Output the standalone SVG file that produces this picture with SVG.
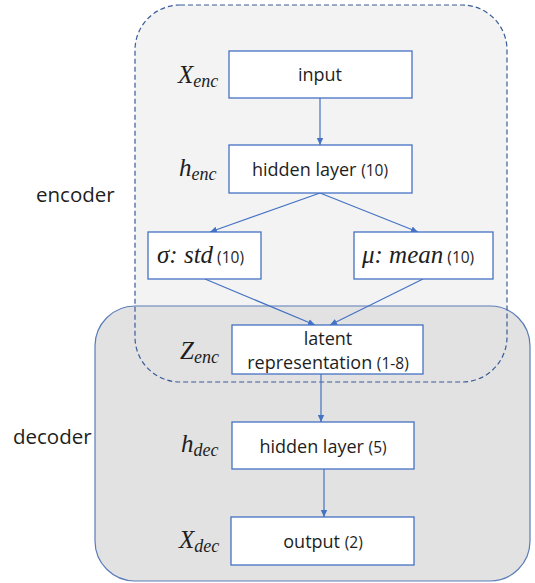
<svg xmlns="http://www.w3.org/2000/svg" width="535" height="583" viewBox="0 0 535 583">
<defs>
<marker id="ah" markerWidth="8" markerHeight="8" refX="7" refY="4" orient="auto" markerUnits="userSpaceOnUse">
<path d="M0,0.8 L7,4 L0,7.2 Z" fill="#4472C4"/>
</marker>
<style>
.box{fill:#fff;stroke:#4472C4;stroke-width:1.3}
.t{font-family:"Open Sans","Liberation Sans",sans-serif;font-size:18px;fill:#1e1e1e;text-anchor:middle}
.s{font-size:15.5px}
.m{font-family:"Liberation Serif","DejaVu Serif",serif;font-style:italic;fill:#1e1e1e}
.big{font-size:25px}
.sub{font-size:18px}
.lbl{font-family:"Open Sans","Liberation Sans",sans-serif;font-size:20.5px;fill:#1e1e1e}
.c{stroke:#4472C4;stroke-width:1.2;fill:none;marker-end:url(#ah)}
</style>
</defs>
<rect width="535" height="583" fill="#fff"/>
<g id="encoder-region">
<rect x="135" y="5" width="372" height="377" rx="45" fill="#f3f3f3"/>
</g>
<g id="decoder-region">
<rect x="95" y="306" width="435" height="275" rx="40" fill="#e2e2e2" stroke="#5a7cb8" stroke-width="1.2"/>
</g>
<g id="encoder-border">
<rect x="135" y="5" width="372" height="377" rx="45" fill="none" stroke="#3a5c99" stroke-width="1.2" stroke-dasharray="5,3"/>
</g>
<text class="lbl" x="36" y="202">encoder</text>
<text class="lbl" x="13" y="444">decoder</text>
<g id="connectors">
<line class="c" x1="320" y1="98" x2="320" y2="145"/>
<line class="c" x1="320" y1="193" x2="210" y2="232"/>
<line class="c" x1="320" y1="193" x2="418" y2="232"/>
<line class="c" x1="205" y1="279" x2="315" y2="325"/>
<line class="c" x1="423" y1="279" x2="330" y2="325"/>
<line class="c" x1="321" y1="374" x2="321" y2="422"/>
<line class="c" x1="324" y1="469" x2="324" y2="517"/>
</g>
<g id="input">
<rect class="box" x="229" y="51" width="183" height="47"/>
<text class="t" x="320" y="81">input</text>
<text class="m" x="178" y="83"><tspan class="big">X</tspan><tspan class="sub" dy="4">enc</tspan></text>
</g>
<g id="hidden-enc">
<rect class="box" x="229" y="145" width="183" height="48"/>
<text class="t" x="320" y="176">hidden layer <tspan class="s">(10)</tspan></text>
<text class="m" x="179" y="176"><tspan class="big">h</tspan><tspan class="sub" dy="4">enc</tspan></text>
</g>
<g id="std">
<rect class="box" x="148" y="232" width="113" height="47"/>
<text x="157" y="263"><tspan class="m big">σ: std</tspan><tspan class="t s" style="text-anchor:start"> (10)</tspan></text>
</g>
<g id="mean">
<rect class="box" x="354" y="232" width="139" height="47"/>
<text x="362" y="263"><tspan class="m big">μ: mean</tspan><tspan class="t s" style="text-anchor:start"> (10)</tspan></text>
</g>
<g id="latent">
<rect class="box" x="232" y="325" width="191" height="49"/>
<text class="t" x="328" y="345">latent</text>
<text class="t" x="328" y="369">representation <tspan class="s">(1-8)</tspan></text>
<text class="m" x="180" y="359"><tspan class="big">Z</tspan><tspan class="sub" dy="4">enc</tspan></text>
</g>
<g id="hidden-dec">
<rect class="box" x="232" y="422" width="182" height="47"/>
<text class="t" x="323" y="453">hidden layer <tspan class="s">(5)</tspan></text>
<text class="m" x="181" y="452"><tspan class="big">h</tspan><tspan class="sub" dy="4">dec</tspan></text>
</g>
<g id="output">
<rect class="box" x="231" y="517" width="183" height="48"/>
<text class="t" x="323" y="548">output <tspan class="s">(2)</tspan></text>
<text class="m" x="179" y="548"><tspan class="big">X</tspan><tspan class="sub" dy="4">dec</tspan></text>
</g>
</svg>
